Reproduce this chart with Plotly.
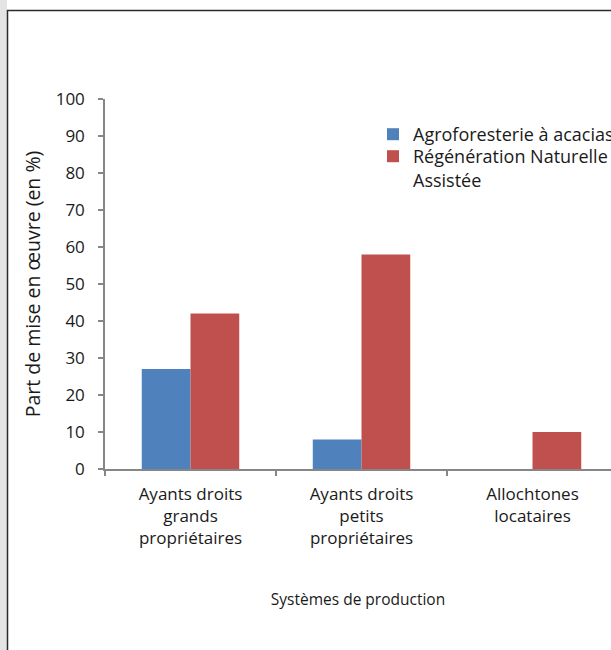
import plotly.graph_objects as go

# Production systems and share (%) adopting each practice
categories = [
    "Ayants droits<br>grands<br>propriétaires",
    "Ayants droits<br>petits<br>propriétaires",
    "Allochtones<br>locataires",
]
agroforesterie = [27, 8, 0]
rna = [42, 58, 10]

W, H = 611, 650
L, R, T, B = 105, 0, 99, 181
plot_w = W - L - R
plot_h = H - T - B
cat_px = 171  # width of one category slot in px


def px_x(p):
    return (p - L) / plot_w


def px_y(p):
    return (H - B - p) / plot_h


font_family = "'Open Sans', 'Noto Sans', sans-serif"

fig = go.Figure()
fig.add_trace(go.Bar(
    x=categories, y=agroforesterie,
    name="Agroforesterie à acacias",
    marker=dict(color="#4F81BD", line=dict(width=0)),
    legend="legend",
))
fig.add_trace(go.Bar(
    x=categories, y=rna,
    name="Régénération Naturelle<br>Assistée",
    marker=dict(color="#C0504D", line=dict(width=0)),
    legend="legend2",
))

legend_common = dict(
    xanchor="left", yanchor="top",
    bgcolor="rgba(0,0,0,0)",
    font=dict(size=18, color="#1a1a1a"),
    valign="top",
)

fig.update_layout(
    width=W, height=H,
    margin=dict(l=L, r=R, t=T, b=B, autoexpand=False),
    paper_bgcolor="white",
    plot_bgcolor="white",
    barmode="group",
    bargap=0.43,
    bargroupgap=0,
    font=dict(family=font_family, size=16, color="#1a1a1a"),
    showlegend=True,
    legend=dict(x=px_x(373), y=px_y(116), **legend_common),
    legend2=dict(x=px_x(373), y=px_y(138), **legend_common),
    xaxis=dict(
        type="category",
        range=[-0.5, -0.5 + plot_w / cat_px],
        showline=True, linecolor="#868686", linewidth=1.5,
        ticks="outside", tickson="boundaries", ticklen=5,
        tickcolor="#868686", tickwidth=1.5,
        ticklabelstandoff=9,
        showgrid=False, zeroline=False,
        title=dict(text="Systèmes de production", standoff=46,
                   font=dict(size=15.5)),
        tickfont=dict(size=17),
    ),
    yaxis=dict(
        range=[0, 100],
        tickvals=list(range(0, 101, 10)),
        showline=True, linecolor="#868686", linewidth=1.5,
        ticks="outside", ticklen=5, tickcolor="#868686", tickwidth=1.5,
        ticklabelstandoff=10,
        showgrid=False, zeroline=False,
        title=dict(text="Part de mise en œuvre (en %)", standoff=10,
                   font=dict(size=19.5)),
        tickfont=dict(size=17),
    ),
    shapes=[
        # light gray strip along the left edge
        dict(type="rect", xref="paper", yref="paper",
             x0=px_x(0), x1=px_x(7), y0=px_y(H + 5), y1=px_y(-5),
             fillcolor="#e4e4e4", line=dict(width=0), layer="below"),
        # outer frame of the chart area
        dict(type="rect", xref="paper", yref="paper",
             x0=px_x(7.5), x1=px_x(W + 20), y0=px_y(H + 20), y1=px_y(10.5),
             fillcolor="rgba(0,0,0,0)",
             line=dict(color="#2b2b2b", width=1.5), layer="above"),
    ],
)

fig.write_html("out.html")
